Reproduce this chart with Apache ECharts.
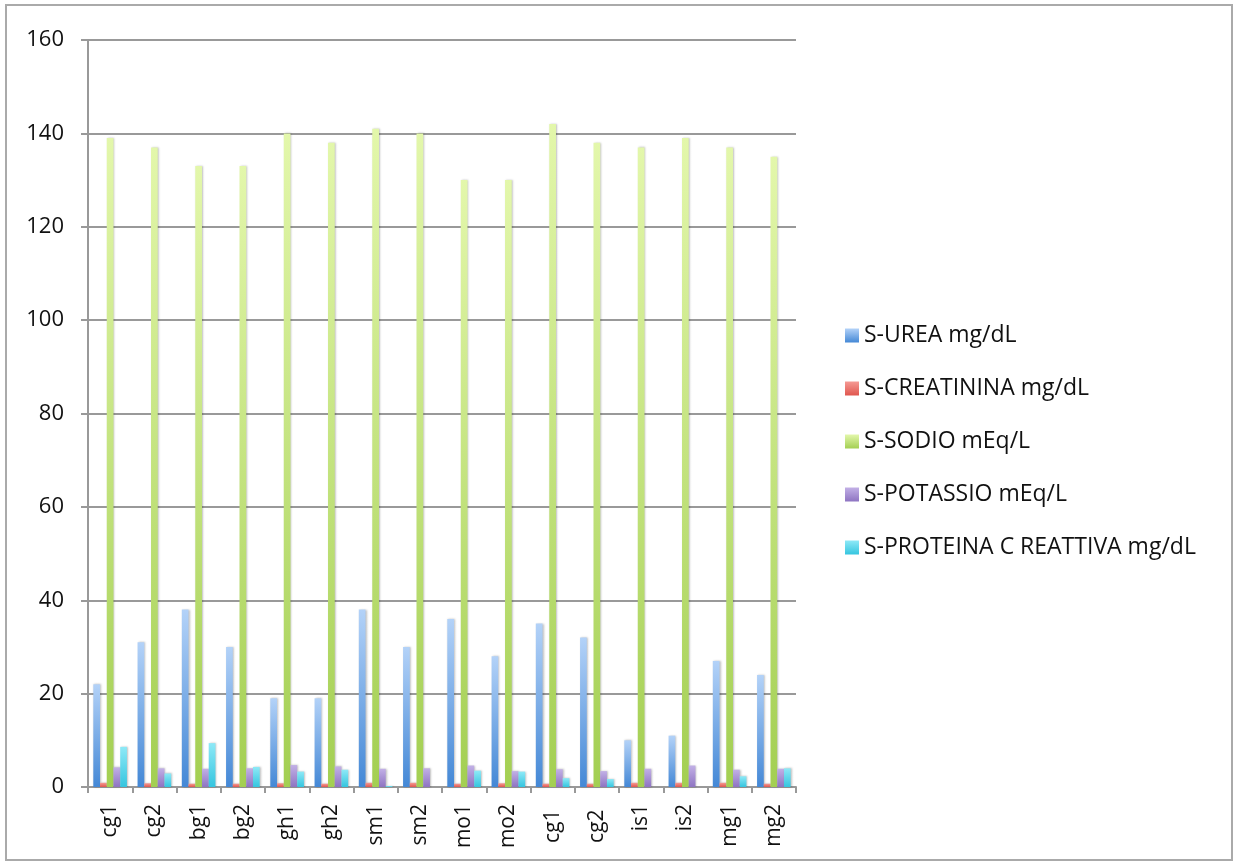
<!DOCTYPE html>
<html><head><meta charset="utf-8">
<script src="https://cdn.jsdelivr.net/npm/echarts@6/dist/echarts.min.js"></script>
<style>html,body{margin:0;padding:0;background:#fff}#c{width:1240px;height:865px}</style>
</head><body><div id="c"></div>
<script>
var categories = ['cg1','cg2','bg1','bg2','gh1','gh2','sm1','sm2','mo1','mo2','cg1 ','cg2 ','is1','is2','mg1','mg2'];
var seriesNames = ['S-UREA mg/dL','S-CREATININA mg/dL','S-SODIO mEq/L','S-POTASSIO mEq/L','S-PROTEINA C REATTIVA mg/dL'];
var urea = [22,31,38,30,19,19,38,30,36,28,35,32,10,11,27,24];
var creatinina = [0.9,0.8,0.7,0.7,0.8,0.7,0.9,0.9,0.7,0.8,0.7,0.7,0.9,0.9,0.9,0.7];
var sodio = [139,137,133,133,140,138,141,140,130,130,142,138,137,139,137,135];
var potassio = [4.2,4.0,3.9,4.0,4.7,4.4,3.9,4.0,4.6,3.4,3.8,3.4,3.9,4.6,3.7,3.9];
var pcr = [8.6,2.9,9.4,4.3,3.3,3.7,0.2,0,3.5,3.3,1.9,1.7,0,0,2.3,4.0];
var yTicks = [0,20,40,60,80,100,120,140,160];

function grad(top, bottom){
  return {type:'linear',x:0,y:0,x2:0,y2:1,colorStops:[{offset:0,color:top},{offset:1,color:bottom}]};
}
var fills = [
  grad('#b3d2f8','#4488d6'),
  grad('#f59a94','#e0564e'),
  grad('#e3f7ab','#a3cf52'),
  grad('#c2b0e6','#8e74c2'),
  grad('#8ee9f7','#35c5df')
];
var dataSets = [urea, creatinina, sodio, potassio, pcr];
var series = dataSets.map(function(d,i){
  return {name:seriesNames[i], type:'bar', data:d, barGap:'0%', barCategoryGap:'24%',
    itemStyle:{color:fills[i], shadowColor:'rgba(0,0,0,0.25)', shadowBlur:2, shadowOffsetX:1},
    emphasis:{disabled:true}};
});
var chart = echarts.init(document.getElementById('c'), null, {renderer:'canvas'});
chart.setOption({
  animation:false,
  backgroundColor:'#fff',
  textStyle:{fontFamily:'Open Sans'},
  graphic:[{type:'rect', shape:{x:6,y:5,width:1226,height:855}, style:{fill:'none', stroke:'#aaaaaa', lineWidth:2}, silent:true}],
  grid:{left:88, right:444, top:40, bottom:78, containLabel:false},
  legend:{orient:'vertical', left:840, top:319, itemGap:30, itemWidth:14, itemHeight:14, icon:'rect',
    textStyle:{fontSize:23, lineHeight:22, color:'#111', fontFamily:'Open Sans'}, data:seriesNames},
  xAxis:{type:'category', data:categories,
    axisLine:{lineStyle:{color:'#999', width:2}},
    axisTick:{show:true, length:6, lineStyle:{color:'#999', width:2}},
    axisLabel:{rotate:90, fontSize:21, color:'#111', margin:17, fontFamily:'Open Sans'}},
  yAxis:{type:'value', min:0, max:160, interval:20,
    axisLine:{show:true, lineStyle:{color:'#999', width:2}},
    axisTick:{show:true, length:7, lineStyle:{color:'#999', width:2}},
    splitLine:{lineStyle:{color:'#999', width:2}},
    axisLabel:{fontSize:22, color:'#111', margin:24, fontFamily:'Open Sans'}},
  series:series
});
</script></body></html>
